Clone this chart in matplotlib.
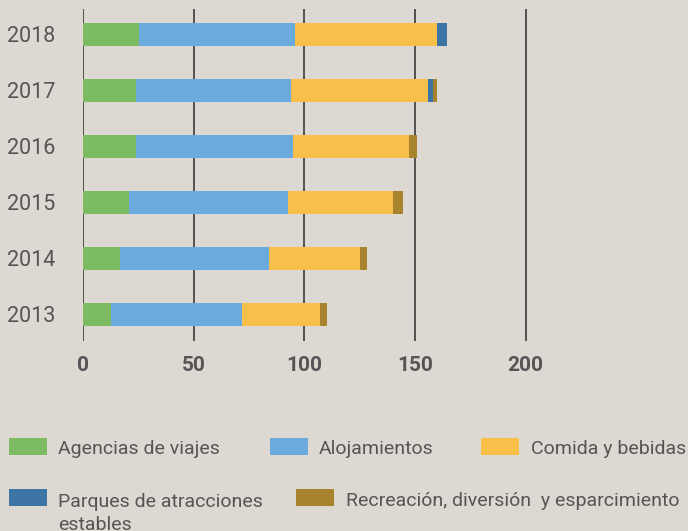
import matplotlib
matplotlib.use("Agg")
import matplotlib.pyplot as plt
from matplotlib.patches import Rectangle
import numpy as np

plt.rcParams['font.family'] = ['Roboto', 'DejaVu Sans']

years = ["2013", "2014", "2015", "2016", "2017", "2018"]
series_names = ["Agencias de viajes", "Alojamientos", "Comida y bebidas",
                "Parques de atracciones\nestables", "Recreación, diversión  y esparcimiento"]
agencias = [12.8, 16.6, 20.9, 23.9, 24.1, 25.4]
alojamientos = [59.2, 67.6, 71.8, 71.1, 70.0, 70.5]
comida = [35.3, 41.1, 47.5, 52.4, 61.9, 64.2]
parques = [0.0, 0.0, 0.0, 0.0, 2.3, 4.5]
recreacion = [3.1, 3.2, 4.5, 3.6, 1.8, 0.0]
xticks = [0, 50, 100, 150, 200]
colors = ["#7DBB63", "#6AAADC", "#F8BF4B", "#3C74A4", "#A8832D"]

bg = "#DDD9D2"
txt = "#555555"

fig = plt.figure(figsize=(6.88, 5.31), dpi=100, facecolor=bg)
W, H = 688, 531
ax = fig.add_axes([83 / W, 1 - 341 / H, 531 / W, 332 / H], facecolor=bg)

y = np.arange(len(years))
left = np.zeros(len(years))
data = [agencias, alojamientos, comida, parques, recreacion]
for vals, c in zip(data, colors):
    ax.barh(y, vals, left=left, height=0.41, color=c, zorder=3)
    left += np.array(vals)

ax.set_xlim(0, 240)
ax.set_ylim(-0.48, 5.45)
ax.set_xticks(xticks)
ax.set_xticklabels([str(t) for t in xticks], fontsize=15, fontweight='bold', color=txt)
ax.set_yticks(y)
ax.set_yticklabels(years, fontsize=15.5, color=txt)
ax.tick_params(axis='both', length=0)
ax.tick_params(axis='x', pad=11)
ax.tick_params(axis='y', pad=20)
for s in ax.spines.values():
    s.set_visible(False)
ax.grid(axis='x', color='#3A3A3A', linewidth=1.2, zorder=0)
ax.grid(axis='y', visible=False)

# legend (manual): patch x, text x, row center y (pixels)
legend_pos = [(9, 58, 446.5), (270, 319, 446.5), (481, 531, 446.5),
              (9, 58, 497.5), (296, 346, 497.5)]
for (px, tx, py), name, c in zip(legend_pos, series_names, colors):
    fig.patches.append(Rectangle((px / W, 1 - (py + 8.5) / H), 38 / W, 17 / H,
                                 transform=fig.transFigure, facecolor=c, edgecolor='none'))
    extra = name.count('\n') * 25
    fig.text(tx / W, 1 - (py + 8 + extra) / H, name, fontsize=14, color=txt,
             ha='left', va='baseline', linespacing=1.37)

fig.savefig("out.png", dpi=100, facecolor=bg)
